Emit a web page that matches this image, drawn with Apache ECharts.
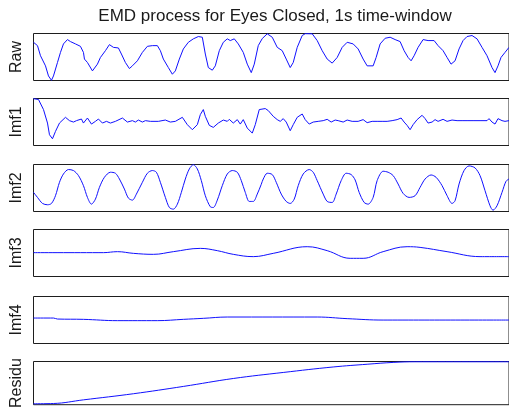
<!DOCTYPE html>
<html>
<head>
<meta charset="utf-8">
<script src="https://cdn.jsdelivr.net/npm/echarts@6/dist/echarts.min.js"></script>
<style>
  html, body { margin: 0; padding: 0; background: #fff; }
  #chart { width: 509px; height: 411px; }
</style>
</head>
<body>
<div id="chart"></div>
<script>
// Sample positions (index within the 1 s window) and amplitudes for each EMD component
const rawT = [0,4,7,12,15,18,20,24,27,30,34,37,42,47,50,51,54,56,59,60,64,67,72,76,80,85,88,92,96,99,104,109,114,119,124,127,130,135,139,142,146,150,155,160,165,169,172,175,179,182,186,190,194,197,201,205,210,214,218,221,225,229,234,239,244,249,253,257,260,264,269,272,279,284,289,294,299,304,309,314,320,325,330,334,340,343,347,352,357,362,367,371,375,378,381,385,390,395,401,405,410,414,418,422,426,430,434,439,444,449,454,459,462,465,468,472,476];
const rawV = [37.8,34.5,24.5,14.5,4.5,0.2,4.5,17.8,27.8,36.2,40.5,38.5,36.2,33.8,27.8,21.2,17.8,16.2,9.5,8.8,16.2,22.8,29.5,35.5,32.8,32.2,26.2,17.8,11.8,14.5,19.5,27.8,33.8,34.5,34.5,29.5,21.2,12.8,6.2,9.5,21.2,31.2,37.8,41.2,43.5,42.8,26.2,12.8,10.2,14.5,29.5,37.8,41.2,39.5,41.2,36.2,27.8,16.2,7.8,16.2,34.5,41.5,46.2,42.8,32.8,29.5,21.2,12.8,17.8,32.8,44.5,46.3,46.2,39.5,29.5,21.2,17.2,22.8,32.8,37.8,36.2,31.2,21.2,14.5,14.5,22.8,36.2,41.8,42.8,40.5,38.5,29.5,22.8,19.5,24.5,32.8,40.5,39.5,39.5,34.5,29.5,22.8,16.2,19.5,31.2,39.5,43.5,44.5,41.2,32.8,24.5,12.8,7.8,14.5,22.8,27.8,32.8];

const imf1T = [0,5,10,14,16,19,22,26,32,36,40,43,45,48,50,54,58,62,65,69,73,77,82,89,94,99,102,105,109,112,117,125,132,137,142,149,154,159,164,167,170,172,176,180,185,190,194,196,200,204,207,210,214,219,222,226,232,235,240,244,247,250,253,257,260,264,269,272,276,280,285,290,294,298,302,305,310,314,319,325,330,334,339,344,349,354,359,364,368,371,374,377,380,384,389,392,395,399,402,405,410,414,419,424,429,434,440,447,454,456,459,462,465,469,472,476];
const imf1V = [46.5,45.7,35.7,22.3,10.7,6.7,14,22.3,28,24.7,23.3,24.7,23.3,26.3,22.3,27.3,21.3,24,26.3,22.3,24,22.3,24,27.3,23.3,24.7,23.3,25.3,23.3,24.7,24,24,25.3,23.3,24,28,20.7,15.7,20.7,30.7,35.7,29,20,18,22.3,25.3,24,26,22.3,25.7,21.3,25.7,17.3,12.3,20.7,35.7,36.7,34.7,29,25.7,24,26.7,23.3,14.7,20.7,28,31.3,25.7,21.3,23.3,24,24.7,26,23.3,25.3,24.7,23.3,25.3,24,24,25.7,22.7,24,24,24,24,24.7,25.7,27.3,23.3,20,15.7,20.7,25.7,30,26.7,22.3,23.3,25.7,24,26,24,25.3,24.7,24.7,24.7,24.7,24.7,24.7,26.7,23.3,21.3,26.7,24.7,24,24.7];

const imf2T = [0,4,9,14,18,22,26,30,35,40,45,50,54,58,62,66,71,77,82,86,91,95,99,103,109,114,119,123,127,132,136,140,144,148,152,156,160,164,168,172,177,180,184,189,194,199,204,208,212,216,220,224,228,230,234,239,243,248,253,257,261,265,270,276,280,284,290,294,299,303,308,313,318,322,326,331,335,340,344,350,355,360,365,370,376,382,387,392,398,403,409,414,419,422,426,431,436,442,447,452,457,460,464,469,473,476];
const imf2V = [19,14,8,6.7,8,15.7,29,37.3,41.7,40.7,35.7,25.7,14,7.3,12.3,24,34,39,38,32.3,22.3,13.3,11.3,17.3,29,38,40.7,39,29,14,4,2.3,7.3,19,32.3,42.3,46.5,42.3,30.7,15.7,4.7,4,11.3,25.7,37.3,40.7,39,30.7,19,10,10,17.3,27,32.3,38,36.7,29,17.3,10,8,12.3,25.7,37.3,41.7,39,30.7,17.3,10,9,17.3,30.7,38,36.7,31.3,19,9,7.3,14,30.7,40,39,35.7,27.3,18,14,15.7,24,32.3,36.3,34,25.7,15.7,8,10.7,27.3,40.7,45.3,43.3,35.7,20.7,5.7,1.3,5.7,19,30,32.3];

const imf3T = [0,70,84,100,120,140,167,184,200,220,240,274,294,317,330,350,374,387,414,447,476];
const imf3V = [24,24,25,23.3,22.3,25,28.3,26,22.3,20,23.3,30,26,18.3,18.3,25,30,29.3,25,20,20];

const imf4T = [0,20,24,50,84,124,150,170,194,284,314,350,476];
const imf4V = [25.3,25.3,24.3,24,22.7,22.7,24,25,26.3,26.3,24.7,23.3,23.3];

const resT = [0,20,50,100,150,200,250,300,334,360,382,476];
const resV = [1,1.3,5.3,12,20,28.7,35.3,41.3,44.3,46.3,47,47];

// Panel names and vertical extent of each amplitude axis
const panelNames = ['Raw', 'Imf1', 'Imf2', 'Imf3', 'Imf4', 'Residu'];
const panelMax = [46.5, 46.7, 46.7, 47.3, 46.7, 47.3];
const panelT = [rawT, imf1T, imf2T, imf3T, imf4T, resT];
const panelV = [rawV, imf1V, imf2V, imf3V, imf4V, resV];
const panelSmooth = [false, false, 0.3, 0.4, 0.4, 0.4];

const windowLen = 476;
const panelTop = [33.5, 98.5, 164.5, 229.5, 296.5, 361.5];
const panelHeight = 47;

const font = 'Arial, "Liberation Sans", Helvetica, sans-serif';

const grids = [], xAxes = [], yAxes = [], series = [];
panelNames.forEach((name, i) => {
  grids.push({
    left: 33.5, top: panelTop[i], width: 476, height: panelHeight,
    show: true, borderColor: '#1e1e1e', borderWidth: 1, backgroundColor: '#fff'
  });
  xAxes.push({
    type: 'value', gridIndex: i, min: 0, max: windowLen,
    axisLine: { show: false }, axisTick: { show: false },
    axisLabel: { show: false }, splitLine: { show: false }
  });
  yAxes.push({
    type: 'value', gridIndex: i, min: 0, max: panelMax[i],
    name: name, nameLocation: 'middle', nameGap: 9, nameRotate: 90,
    nameTextStyle: { fontFamily: font, fontSize: 16, color: '#1a1a1a' },
    axisLine: { show: false }, axisTick: { show: false },
    axisLabel: { show: false }, splitLine: { show: false }
  });
  series.push({
    type: 'line', xAxisIndex: i, yAxisIndex: i,
    data: panelT[i].map((t, k) => [t, panelV[i][k]]),
    showSymbol: false, smooth: panelSmooth[i], silent: true,
    lineStyle: { color: '#1010ff', width: 1 },
    animation: false, clip: false
  });
});

const chart = echarts.init(document.getElementById('chart'), null, { renderer: 'canvas' });
chart.setOption({
  animation: false,
  backgroundColor: '#fff',
  title: {
    text: 'EMD process for Eyes Closed, 1s time-window',
    left: 270, top: 3, textAlign: 'center',
    textStyle: { fontFamily: font, fontSize: 17, fontWeight: 'normal', color: '#1a1a1a' }
  },
  grid: grids,
  xAxis: xAxes,
  yAxis: yAxes,
  series: series
});
</script>
</body>
</html>
